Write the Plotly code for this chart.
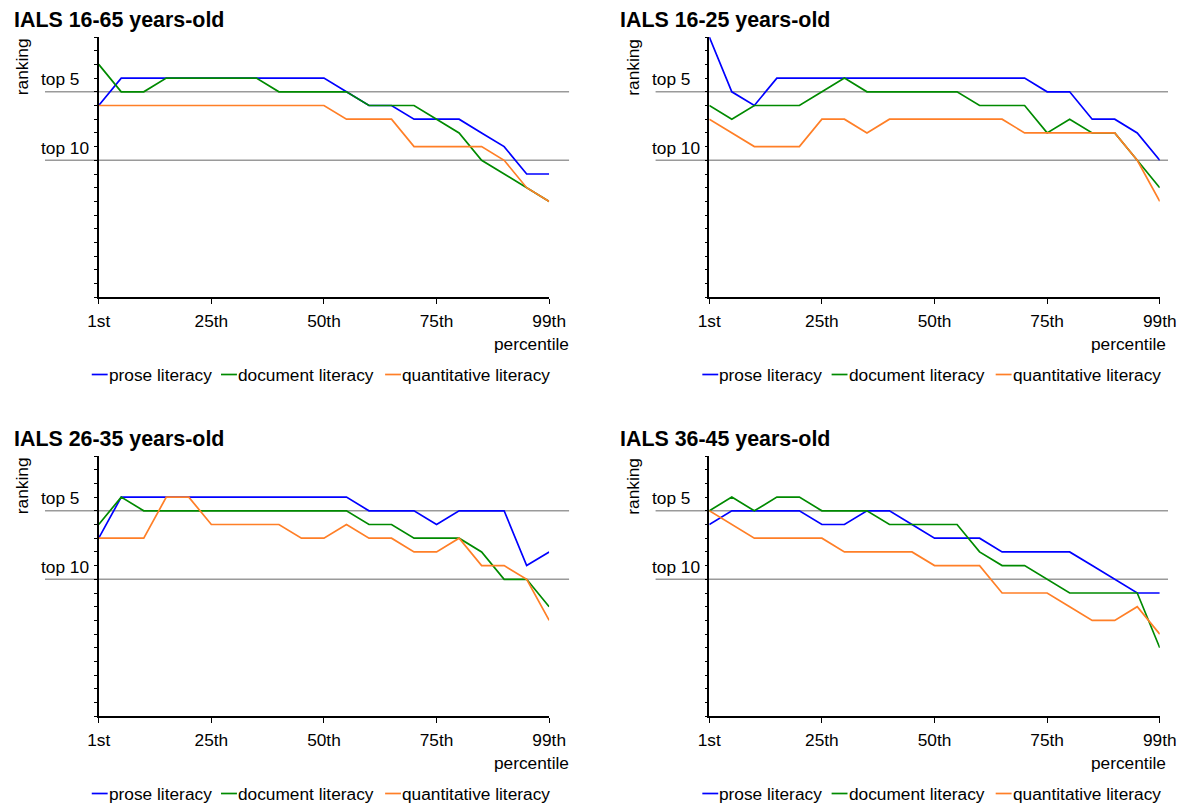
import plotly.graph_objects as go

# ---------------- data ----------------
percentiles = ["1st", "5th", "10th", "15th", "20th", "25th", "30th", "35th", "40th", "45th",
               "50th", "55th", "60th", "65th", "70th", "75th", "80th", "85th", "90th", "95th", "99th"]
tick_labels = ["1st", "25th", "50th", "75th", "99th"]
series_names = ["prose literacy", "document literacy", "quantitative literacy"]
panel_titles = ["IALS 16-65 years-old", "IALS 16-25 years-old",
                "IALS 26-35 years-old", "IALS 36-45 years-old"]
ref_ranks = [5, 10]
ref_labels = ["top 5", "top 10"]

prose_16_65 = [6, 4, 4, 4, 4, 4, 4, 4, 4, 4, 4, 5, 6, 6, 7, 7, 7, 8, 9, 11, 11]
document_16_65 = [3, 5, 5, 4, 4, 4, 4, 4, 5, 5, 5, 5, 6, 6, 6, 7, 8, 10, 11, 12, 13]
quantitative_16_65 = [6, 6, 6, 6, 6, 6, 6, 6, 6, 6, 6, 7, 7, 7, 9, 9, 9, 9, 10, 12, 13]

prose_16_25 = [1, 5, 6, 4, 4, 4, 4, 4, 4, 4, 4, 4, 4, 4, 4, 5, 5, 7, 7, 8, 10]
document_16_25 = [6, 7, 6, 6, 6, 5, 4, 5, 5, 5, 5, 5, 6, 6, 6, 8, 7, 8, 8, 10, 12]
quantitative_16_25 = [7, 8, 9, 9, 9, 7, 7, 8, 7, 7, 7, 7, 7, 7, 8, 8, 8, 8, 8, 10, 13]

prose_26_35 = [7, 4, 4, 4, 4, 4, 4, 4, 4, 4, 4, 4, 5, 5, 5, 6, 5, 5, 5, 9, 8]
document_26_35 = [6, 4, 5, 5, 5, 5, 5, 5, 5, 5, 5, 5, 6, 6, 7, 7, 7, 8, 10, 10, 12]
quantitative_26_35 = [7, 7, 7, 4, 4, 6, 6, 6, 6, 7, 7, 6, 7, 7, 8, 8, 7, 9, 9, 10, 13]

prose_36_45 = [6, 5, 5, 5, 5, 6, 6, 5, 5, 6, 7, 7, 7, 8, 8, 8, 8, 9, 10, 11, 11]
document_36_45 = [5, 4, 5, 4, 4, 5, 5, 5, 6, 6, 6, 6, 8, 9, 9, 10, 11, 11, 11, 11, 15]
quantitative_36_45 = [5, 6, 7, 7, 7, 7, 8, 8, 8, 8, 9, 9, 9, 11, 11, 11, 12, 13, 13, 12, 14]

panels_data = [
    (prose_16_65, document_16_65, quantitative_16_65),
    (prose_16_25, document_16_25, quantitative_16_25),
    (prose_26_35, document_26_35, quantitative_26_35),
    (prose_36_45, document_36_45, quantitative_36_45),
]

# ---------------- style ----------------
W, H = 1185, 803
FONT = "Liberation Sans, Arial, Helvetica, sans-serif"
FS = 17.3
colors = ["#0000ff", "#008a00", "#ff7f27"]
GRID = "#9a9a9a"

# horizontal compensation for the page being shown slightly narrowed
SX, OX = 0.981, 8.8


def fx(p):
    v = (p - OX) / SX
    return min(max(v, 0.0), W) / W


def fy(p):
    return 1 - p / H


offsets = [(0, 0), (614, 0), (0, 419), (614, 419)]

fig = go.Figure()
shapes = []
annotations = []
layout_axes = {}


def txt(text, x, y, xanchor="left", size=FS, yref="paper", **kw):
    return dict(text=text, xref="paper", yref=yref, x=x, y=y, xanchor=xanchor,
                yanchor="middle", showarrow=False,
                font=dict(size=size, color="black", family=FONT), **kw)


for k, (dx, dy) in enumerate(offsets):
    n = "" if k == 0 else str(k + 1)
    xa, ya = "x" + n, "y" + n
    for s, vals in enumerate(panels_data[k]):
        fig.add_trace(go.Scatter(
            x=percentiles, y=vals, mode="lines", name=series_names[s],
            line=dict(color=colors[s], width=1.7), xaxis=xa, yaxis=ya,
            showlegend=False, cliponaxis=False, hoverinfo="x+y+name"))

    layout_axes["xaxis" + n] = dict(
        domain=[fx(96 + dx), fx(549 + dx)], anchor=ya, type="category",
        categoryorder="array", categoryarray=percentiles,
        range=[0, len(percentiles) - 1],
        tickmode="array", tickvals=tick_labels, ticktext=tick_labels,
        ticks="outside", ticklen=5, tickwidth=1, tickcolor="black",
        ticklabelstandoff=2,
        showline=True, linecolor="black", linewidth=2, showgrid=False,
        zeroline=False, tickfont=dict(size=FS, color="black", family=FONT))
    layout_axes["yaxis" + n] = dict(
        domain=[fy(297.3 + dy), fy(37 + dy)], anchor=xa,
        range=[20, 1], tickmode="linear", tick0=1, dtick=1,
        ticks="outside", ticklen=3, tickwidth=1, tickcolor="black",
        showticklabels=False, showline=True, linecolor="black", linewidth=1.5,
        showgrid=False, zeroline=False)

    # reference lines (top 5 / top 10)
    for r, lab in zip(ref_ranks, ref_labels):
        shapes.append(dict(type="line", xref="paper", yref=ya,
                           x0=fx(42 + dx), x1=fx(569 + dx), y0=r, y1=r,
                           line=dict(color=GRID, width=1.4), layer="below"))
        annotations.append(txt(lab, fx(36 + dx), r - 0.9, yref=ya))

    # title
    annotations.append(txt("<b>" + panel_titles[k] + "</b>", fx(4 + dx), fy(20 + dy), size=21.4))
    # y title
    annotations.append(txt("ranking", fx(19 + dx), fy(67 + dy), xanchor="center", textangle=-90))
    # x title
    annotations.append(txt("percentile", fx(571 + dx), fy(344 + dy), xanchor="right"))
    # legend
    line_x = [89, 219, 384]
    text_x = [104, 234, 399]
    for s in range(3):
        shapes.append(dict(type="line", xref="paper", yref="paper",
                           x0=fx(line_x[s] + dx), x1=fx(line_x[s] + 16 + dx),
                           y0=fy(374.5 + dy), y1=fy(374.5 + dy),
                           line=dict(color=colors[s], width=1.7)))
        annotations.append(txt(series_names[s], fx(text_x[s] + dx), fy(375 + dy)))

fig.update_layout(
    width=W, height=H, margin=dict(l=0, r=0, t=0, b=0, pad=0),
    paper_bgcolor="white", plot_bgcolor="white",
    font=dict(family=FONT, size=FS, color="black"),
    shapes=shapes, annotations=annotations, showlegend=False,
    **layout_axes)

fig.write_html("out.html")
